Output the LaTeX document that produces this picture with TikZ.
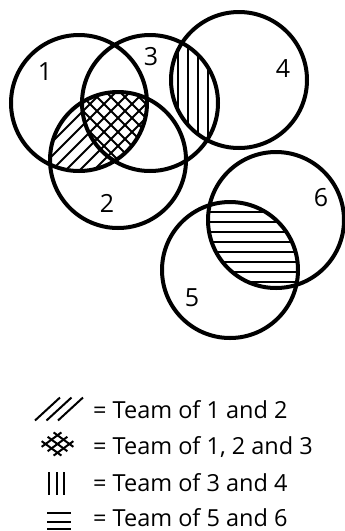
\documentclass[tikz,border=0pt]{standalone}
\usepackage{fontspec}
\setmainfont{Open Sans}
\usetikzlibrary{calc}
\begin{document}
\begin{tikzpicture}[x=1pt,y=-1pt,
  ring/.style={line width=4pt},
  hatch/.style={line width=1.9pt},
  sym/.style={line width=2pt},
  lbl/.style={font=\fontsize{25}{28}\selectfont, inner sep=0pt},
  legend/.style={font=\fontsize{23.5}{26}\selectfont, inner sep=0pt, text depth=0pt, anchor=base west}]
\useasboundingbox (0,0) rectangle (345,531);
\coordinate (c1) at (79,103);
\coordinate (c2) at (118,160);
\coordinate (c3) at (150,103);
\coordinate (c4) at (239,80);
\coordinate (c5) at (230,270);
\coordinate (c6) at (276,220);
% team of 1 and 2 : diagonal hatch
\begin{scope}
  \clip (c1) circle[radius=68pt];
  \clip (c2) circle[radius=68pt];
  \foreach \k in {-12,...,12}
    \draw[hatch,shift={(c2)}] (\k*14-120,120) -- ++(240,-240);
\end{scope}
% team of 1, 2 and 3 : cross hatch
\begin{scope}
  \clip (c1) circle[radius=68pt];
  \clip (c2) circle[radius=68pt];
  \clip (c3) circle[radius=68pt];
  \foreach \k in {-12,...,12}
    \draw[hatch,shift={(c2)}] (\k*14-120,-120) -- ++(240,240);
\end{scope}
% team of 3 and 4 : vertical hatch
\begin{scope}
  \clip (c3) circle[radius=68pt];
  \clip (c4) circle[radius=68pt];
  \foreach \k in {-1,...,5}
    \draw[hatch] (178+\k*10,0) -- (178+\k*10,200);
\end{scope}
% team of 5 and 6 : horizontal hatch
\begin{scope}
  \clip (c5) circle[radius=68pt];
  \clip (c6) circle[radius=68pt];
  \foreach \k in {-1,...,8}
    \draw[hatch] (150,211.7+\k*10) -- (345,211.7+\k*10);
\end{scope}
% circles
\foreach \c in {c1,c2,c3,c4,c5,c6}
  \draw[ring] (\c) circle[radius=68pt];
% labels
\node[lbl] (n1) at (45,72) {1};
\node[lbl] (n3) at (151,57) {3};
\node[lbl] (n4) at (283,69) {4};
\node[lbl] (n2) at (107,203) {2};
\node[lbl] (n6) at (321,198) {6};
\node[lbl] (n5) at (192,298) {5};
% legend symbols
\foreach \k in {0,1,2}
  \draw[sym] (35+\k*11.5,420.5) -- (60+\k*11.5,397.5);
\begin{scope}[shift={(57.5,444)},xscale=1.3,yscale=0.95]
  \foreach \s in {-1,0,1} {
    \draw[sym] (4.6*\s-7.6,4.6*\s+7.6) -- (4.6*\s+7.6,4.6*\s-7.6);
    \draw[sym] (4.6*\s-7.6,-4.6*\s-7.6) -- (4.6*\s+7.6,-4.6*\s+7.6);
  }
\end{scope}
\foreach \x in {49,56.7,64.3}
  \draw[sym] (\x,472) -- (\x,495);
\foreach \y in {513.3,521.7,529}
  \draw[sym] (47,\y) -- (71,\y);
% legend texts
\node[legend] (t1) at (93,418) {= Team of 1 and 2};
\node[legend] (t2) at (93,454.5) {= Team of 1, 2 and 3};
\node[legend] (t3) at (93,491) {= Team of 3 and 4};
\node[legend] (t4) at (93,526) {= Team of 5 and 6};
\end{tikzpicture}
\end{document}
